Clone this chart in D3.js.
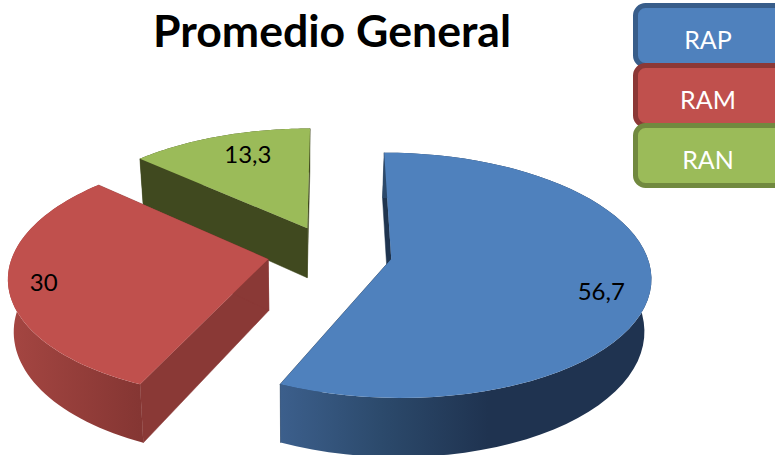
<!DOCTYPE html>
<html><head><meta charset="utf-8">
<style>html,body{margin:0;padding:0;background:#fff;overflow:hidden}svg{display:block}</style>
<script src="https://cdn.jsdelivr.net/npm/d3@7/dist/d3.min.js"></script>
</head><body><svg id="c" width="775" height="455"></svg>
<script>
const categories = ["RAP","RAM","RAN"];
const values = [56.7,30,13.3];
const labels = ["56,7","30","13,3"];
const title = "Promedio General";

const topColors = ["#4f81bd","#c0504d","#9bbb59"];
const borderColors = ["#385d8a","#8c3836","#71893f"];
const radialColors = ["#1f344f","#8a3936","#40491f"];
const wallStops = [
  [[0,"#3c5f8c"],[.27,"#2c4a6c"],[.56,"#1f3350"],[1,"#1f3350"]],
  [[0,"#a54642"],[1,"#853633"]],
  [[0,"#5b6f35"],[1,"#40491f"]]
];

const view = {xc:331, yc:253, rx:255, ry:118.9, k:0.132, explode:[.24,.25,.235], depth:51, shrink:0.98, vx:300};
const labelPlace = [{f:.85,dx:-10,dy:10},{f:.87,dx:1,dy:0},{f:.72,dx:5.5,dy:-6}];

const svg = d3.select("#c"), defs = svg.append("defs");
const pie = d3.pie().sort(null).value(d=>d);
const arcs = pie(values);

function offset(a){
  const mid=(a.startAngle+a.endAngle)/2, e=view.explode[a.index];
  return [e*Math.sin(mid), -e*Math.cos(mid)];
}
function project(u,v,low){
  const w=1/(1-view.k*v);
  let X=view.xc+view.rx*u*w, Y=view.yc+view.ry*v*w;
  if(low){ X=view.vx+(X-view.vx)*view.shrink; Y+=view.depth*w; }
  return [X,Y];
}
function rim(a,t,f,low){
  const o=offset(a);
  return project(o[0]+f*Math.sin(t), o[1]-f*Math.cos(t), low);
}
const line=d3.line();
const steps=(a,b)=>d3.range(0,61).map(i=>a+(b-a)*i/60);

// back to front
[2,1,0].forEach(i=>{
  const a=arcs[i], ts=steps(a.startAngle,a.endAngle);
  const g=svg.append("g");
  const xs=ts.map(t=>rim(a,t,1,false)[0]);
  const x1=i===0?rim(a,a.endAngle,1,false)[0]:d3.min(xs);
  const x2=i===0?d3.max(xs):rim(a,a.startAngle,1,false)[0];
  const grad=defs.append("linearGradient").attr("id","w"+i).attr("gradientUnits","userSpaceOnUse")
    .attr("x1",x1).attr("x2",x2).attr("y1",0).attr("y2",0);
  wallStops[i].forEach(s=>grad.append("stop").attr("offset",s[0]).attr("stop-color",s[1]));
  // radial walls
  [a.startAngle,a.endAngle].forEach(t=>{
    const pts=[rim(a,t,0,false),rim(a,t,1,false),rim(a,t,1,true),rim(a,t,0,true)];
    g.append("path").attr("d",line(pts)+"Z").attr("fill",radialColors[i]).attr("stroke",radialColors[i]).attr("stroke-width",.5);
  });
  // outer wall
  const wall=ts.map(t=>rim(a,t,1,false)).concat(ts.slice().reverse().map(t=>rim(a,t,1,true)));
  g.append("path").attr("d",line(wall)+"Z").attr("fill","url(#w"+i+")");
  // top
  const top=[rim(a,0,0,false)].concat(ts.map(t=>rim(a,t,1,false)));
  g.append("path").attr("d",line(top)+"Z").attr("fill",topColors[i]);
});

// data labels
arcs.forEach((a,i)=>{
  const mid=(a.startAngle+a.endAngle)/2, p=rim(a,mid,labelPlace[i].f,false);
  svg.append("text").attr("x",p[0]+labelPlace[i].dx).attr("y",p[1]+labelPlace[i].dy)
    .attr("text-anchor","middle").attr("dominant-baseline","central")
    .attr("font-family","Lato, sans-serif").attr("font-size",24).attr("fill","#000").text(labels[i]);
});

// title
svg.append("text").attr("x",332).attr("y",47).attr("text-anchor","middle")
  .attr("font-family","Lato, sans-serif").attr("font-weight",700).attr("font-size",44.6).attr("fill","#000").text(title);

// legend
const ly=d3.scaleBand().domain(categories).range([5.5,185.5]).padding(0);
categories.forEach((c,i)=>{
  const y=ly(c);
  svg.append("rect").attr("x",635.5).attr("y",y).attr("width",170).attr("height",ly.bandwidth())
    .attr("rx",10).attr("fill",topColors[i]).attr("stroke",borderColors[i]).attr("stroke-width",5);
  svg.append("text").attr("x",708).attr("y",y+ly.bandwidth()/2+3).attr("text-anchor","middle").attr("dominant-baseline","central")
    .attr("font-family","Lato, sans-serif").attr("font-size",25).attr("fill","#fff").text(c);
});
</script></body></html>
